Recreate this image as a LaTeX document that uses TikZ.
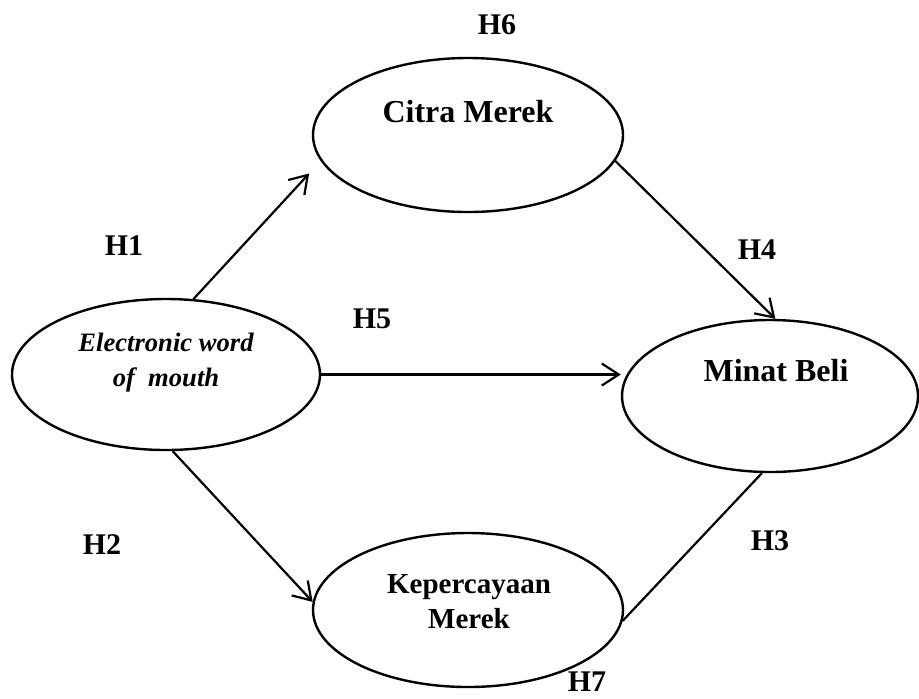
\documentclass[tikz,border=0pt]{standalone}
\usepackage{fontspec}
\setmainfont{Liberation Serif}
\usetikzlibrary{arrows.meta,shapes.geometric}
\tikzset{
  var/.style  ={draw, ellipse, line width=1.2pt, minimum width=155pt, minimum height=77pt, inner sep=0pt},
  vtxt/.style ={align=center, inner sep=0pt, font=\bfseries\fontsize{16}{17.5}\selectfont},
  hyp/.style  ={inner sep=0pt, font=\bfseries\fontsize{15}{18}\selectfont},
  arr/.style  ={-{Straight Barb[length=8.5pt,width=11pt]}, line width=1.1pt},
  lin/.style  ={line width=1.1pt},
}
\begin{document}
\begin{tikzpicture}[x=0.5pt, y=-0.5pt]
  \useasboundingbox (0,0) rectangle (919,698);

  % constructs
  \node[var] (citra) at (468,135) {};
  \node[var, minimum width=154pt, minimum height=75.5pt] (ewom) at (166,374.5) {};
  \node[var, minimum width=148pt, minimum height=76pt] (minat) at (770,396) {};
  \node[var] (kep) at (468,610) {};

  \node[vtxt] (tcitra) at (468,112) {Citra Merek};
  \node[vtxt, font=\bfseries\itshape\fontsize{13.3}{17.5}\selectfont] (tewom) at (166,363) {Electronic word\\of~~mouth};
  \node[vtxt] (tminat) at (776,371) {Minat Beli};
  \node[vtxt, font=\bfseries\fontsize{14.5}{17.5}\selectfont] (tkep) at (469,602) {Kepercayaan\\Merek};

  % paths
  \draw[arr, shorten >=8.5pt] (ewom.70) -- (citra.190);
  \draw[arr] (ewom.-85) -- (kep.177);
  \draw[arr] (ewom.east) -- (ewom.east -| minat.west);
  \draw[arr] (citra.-10) -- (minat.86);
  \draw[lin] (kep.-4) -- (minat.-96);

  % hypotheses
  \node[hyp] (h1) at (124,246) {H1};
  \node[hyp] (h2) at (102,545) {H2};
  \node[hyp] (h3) at (770,541) {H3};
  \node[hyp] (h4) at (757,250) {H4};
  \node[hyp] (h5) at (372,319) {H5};
  \node[hyp] (h6) at (497,25) {H6};
  \node[hyp] (h7) at (587,682) {H7};
\end{tikzpicture}
\end{document}
